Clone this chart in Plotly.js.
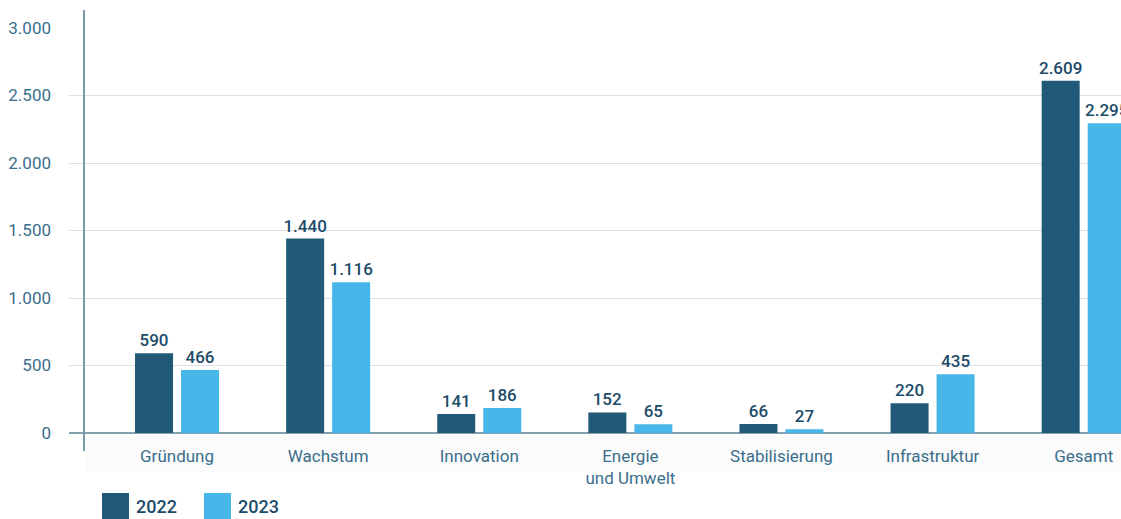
<!DOCTYPE html>
<html>
<head>
<meta charset="utf-8">
<script src="https://cdn.plot.ly/plotly-3.0.1.min.js"></script>
<style>html,body{margin:0;padding:0;background:#fff;}#chart{width:1121px;height:519px;}</style>
</head>
<body>
<div id="chart"></div>
<script>
const categories = ["Gründung", "Wachstum", "Innovation", "Energie<br>und Umwelt", "Stabilisierung", "Infrastruktur", "Gesamt"];
const values2022 = [590, 1440, 141, 152, 66, 220, 2609];
const values2023 = [466, 1116, 186, 65, 27, 435, 2295];
const seriesNames = ["2022", "2023"];
const yTickVals = [0, 500, 1000, 1500, 2000, 2500, 3000];

const DARK = "#215a78";
const LIGHT = "#47b7e9";
const LABEL = "#1c4b68";
const TICK = "#3a6e8b";
const FONT = "Roboto, 'Noto Sans', sans-serif";

function fmt(v) {
  return String(v).replace(/\B(?=(\d{3})+(?!\d))/g, ".");
}

const W = 1121, H = 519;
const M = {l: 69, r: 0, t: 28, b: 86};
const PW = W - M.l - M.r, PH = H - M.t - M.b;
const px = x => (x - M.l) / PW;
const py = y => (H - M.b - y) / PH;

const traces = [values2022, values2023].map((vals, i) => ({
  type: "bar",
  x: categories,
  y: vals,
  name: seriesNames[i],
  marker: {color: i === 0 ? DARK : LIGHT},
  text: vals.map(fmt),
  textposition: "outside",
  constraintext: "none",
  textfont: {family: FONT, size: 17, color: LABEL, weight: 500},
  cliponaxis: true,
  hoverinfo: "skip"
}));

const shapes = [
  {type: "rect", xref: "paper", yref: "paper", x0: px(86), x1: 1, y0: py(472), y1: py(437),
   fillcolor: "#fbfbfb", line: {width: 0}, layer: "below"},
  {type: "line", xref: "paper", yref: "paper", x0: px(84), x1: px(84), y0: py(451), y1: py(10),
   line: {color: "#7b9bab", width: 2}},
  {type: "rect", xref: "paper", yref: "paper", x0: px(102), x1: px(129), y0: py(519), y1: py(493),
   fillcolor: DARK, line: {width: 0}},
  {type: "rect", xref: "paper", yref: "paper", x0: px(204), x1: px(231), y0: py(519), y1: py(493),
   fillcolor: LIGHT, line: {width: 0}}
];

const annotations = [
  {xref: "paper", yref: "paper", x: px(134), y: py(519), xanchor: "left", yanchor: "bottom",
   text: seriesNames[0], showarrow: false, font: {family: FONT, size: 18, color: LABEL, weight: 500}},
  {xref: "paper", yref: "paper", x: px(236), y: py(519), xanchor: "left", yanchor: "bottom",
   text: seriesNames[1], showarrow: false, font: {family: FONT, size: 18, color: LABEL, weight: 500}}
];

const layout = {
  width: W, height: H,
  margin: M,
  paper_bgcolor: "#fff", plot_bgcolor: "rgba(0,0,0,0)",
  separators: ",.",
  showlegend: false,
  barmode: "group",
  bargap: 0.391,
  bargroupgap: 0.174,
  font: {family: FONT, color: TICK, size: 17},
  xaxis: {
    type: "category",
    range: [-0.715, 6.247],
    showgrid: false, zeroline: false, showline: false,
    ticks: "", ticklabelstandoff: 11,
    tickfont: {family: FONT, size: 17, color: TICK},
    fixedrange: true
  },
  yaxis: {
    range: [0, 3000],
    tickvals: yTickVals,
    ticktext: yTickVals.map(fmt),
    showgrid: true, gridcolor: "#dde0e8", gridwidth: 1,
    zeroline: true, zerolinecolor: "#85a1b0", zerolinewidth: 2,
    showline: false, ticks: "", ticklabelstandoff: 17,
    tickfont: {family: FONT, size: 17, color: TICK},
    fixedrange: true
  },
  shapes: shapes,
  annotations: annotations
};

Plotly.newPlot("chart", traces, layout, {displayModeBar: false, staticPlot: true});
</script>
</body>
</html>
